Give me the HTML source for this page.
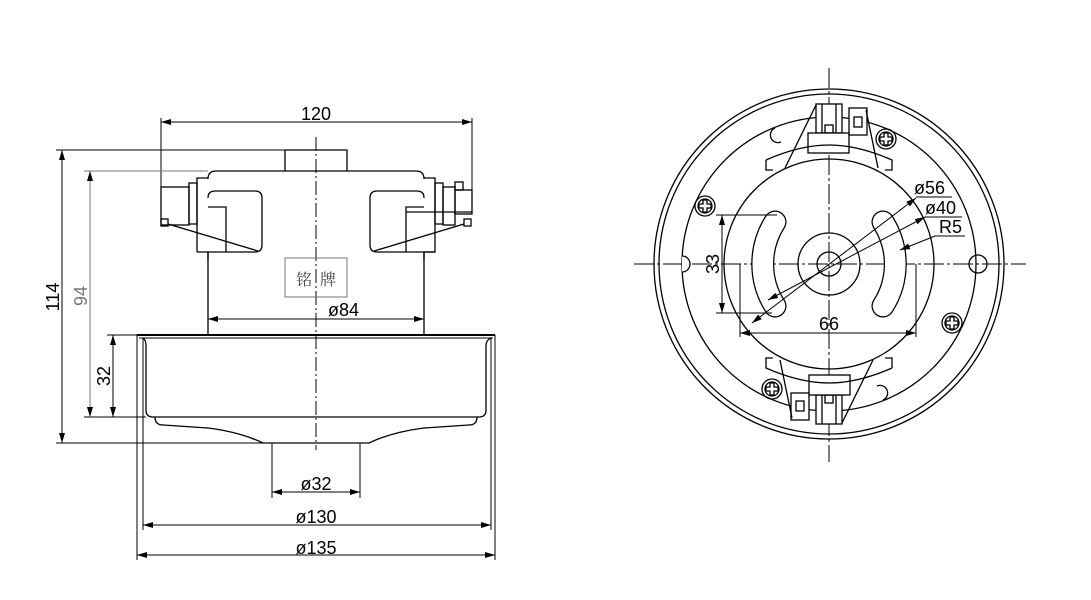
<!DOCTYPE html>
<html><head><meta charset="utf-8"><style>
html,body{margin:0;padding:0;background:#fff;}
svg{display:block;}
text{font-family:"Liberation Sans","DejaVu Sans",sans-serif;fill:#000;}
</style></head><body>
<svg width="1091" height="600" viewBox="0 0 1091 600" xmlns="http://www.w3.org/2000/svg">
<defs>
<marker id="a" viewBox="0 0 10 6" refX="10" refY="3" markerWidth="10" markerHeight="6" orient="auto-start-reverse" markerUnits="userSpaceOnUse"><path d="M0,0 L10,3 L0,6 z" fill="#000"/></marker>
<g id="sc" fill="none" stroke="#000" stroke-width="1.3"><circle cx="0" cy="0" r="10"/><circle cx="0" cy="0" r="7"/><path d="M-2,-6 H2 V-2 H6 V2 H2 V6 H-2 V2 H-6 V-2 H-2 Z"/></g>
<g id="term" fill="none" stroke="#000" stroke-width="1.3">
<rect x="816" y="104" width="26" height="29" fill="#fff"/>
<line x1="822" y1="104" x2="822" y2="133"/><line x1="836" y1="104" x2="836" y2="133"/>
<rect x="825" y="125" width="8" height="8"/>
<rect x="808" y="133" width="41" height="20" fill="#fff"/>
<rect x="849" y="108" width="18" height="27" fill="#fff"/>
<rect x="854" y="117" width="8" height="10"/>
<line x1="816" y1="105" x2="785" y2="168"/>
<line x1="866" y1="110" x2="878" y2="168"/>
<path d="M766,160 Q800,145 829,145 Q858,145 892,160 V170 H885"/>
<path d="M766,160 V170 H773"/>
</g>
</defs>
<g fill="none" stroke="#000" stroke-width="1.3">
<line x1="316" y1="137" x2="316" y2="450" stroke-width="1" stroke-dasharray="14,3,2,3"/>
<path d="M285,171 V150 H347 V171"/>
<path d="M197,252 V178 H208 V179 Q208,171 216,171 H416 Q424,171 424,179 V178 H435 V252 H424 V260"/>
<path d="M197,252 H208 V260"/>
<path d="M435,252 H424"/>
<path d="M208,207 H226 V252 M208,198 Q208,191 215,191 H255 Q262,191 262,198 V245 Q262,252 255,252 H208"/>
<path d="M424,207 H406 V252 M424,198 Q424,191 417,191 H377 Q370,191 370,198 V245 Q370,252 377,252 H424"/>
<rect x="189" y="183" width="8" height="41"/>
<rect x="161" y="187" width="28" height="38"/>
<rect x="161" y="219" width="7" height="7"/>
<line x1="168" y1="224" x2="258" y2="251"/>
<rect x="435" y="183" width="8" height="41"/>
<rect x="443" y="187" width="12" height="38"/>
<rect x="455" y="190" width="17" height="24"/>
<rect x="455" y="182" width="8" height="8"/>
<rect x="464" y="219" width="7" height="7"/>
<line x1="464" y1="224" x2="374" y2="251"/>
<line x1="406" y1="212" x2="472" y2="212"/>
<path d="M208,252 V334 M424,252 V334"/>
<rect x="285" y="258" width="62" height="39" stroke="#777" stroke-width="1"/>
<line x1="137" y1="335" x2="495" y2="335" stroke-width="2"/>
<line x1="139" y1="338" x2="493" y2="338" stroke-width="1"/>
<path d="M143,338 Q146,340 146,346 V410 Q146,417 153,417 H479 Q486,417 486,410 V346 Q486,340 491,338"/>
<path d="M155,417 Q155,425 163,425 L208,428 Q240,432 263,443 H369 Q392,432 424,428 L469,425 Q477,425 477,417"/>
<line x1="137" y1="335" x2="137" y2="560" stroke-width="1"/>
<line x1="143" y1="338" x2="143" y2="530" stroke-width="1"/>
<line x1="495" y1="335" x2="495" y2="560" stroke-width="1"/>
<line x1="491" y1="338" x2="491" y2="530" stroke-width="1"/>
<line x1="272" y1="443" x2="272" y2="498" stroke-width="1"/>
<line x1="360" y1="443" x2="360" y2="498" stroke-width="1"/>
<line x1="161" y1="187" x2="161" y2="118" stroke-width="1"/>
<line x1="472" y1="190" x2="472" y2="118" stroke-width="1"/>
<line x1="56" y1="150" x2="285" y2="150" stroke-width="1"/>
<line x1="84" y1="171" x2="208" y2="171" stroke-width="1" stroke="#777"/>
<line x1="56" y1="443" x2="263" y2="443" stroke-width="1"/>
<line x1="84" y1="417" x2="146" y2="417" stroke-width="1"/>
<line x1="107" y1="335" x2="137" y2="335" stroke-width="1"/>
<g stroke-width="1">
<line x1="161" y1="122" x2="472" y2="122" marker-start="url(#a)" marker-end="url(#a)"/>
<line x1="62" y1="150" x2="62" y2="443" marker-start="url(#a)" marker-end="url(#a)"/>
<line x1="90" y1="171" x2="90" y2="417" stroke="#777" marker-start="url(#a)" marker-end="url(#a)"/>
<line x1="113" y1="335" x2="113" y2="417" marker-start="url(#a)" marker-end="url(#a)"/>
<line x1="208" y1="319" x2="424" y2="319" marker-start="url(#a)" marker-end="url(#a)"/>
<line x1="272" y1="492" x2="360" y2="492" marker-start="url(#a)" marker-end="url(#a)"/>
<line x1="143" y1="525" x2="491" y2="525" marker-start="url(#a)" marker-end="url(#a)"/>
<line x1="137" y1="555" x2="495" y2="555" marker-start="url(#a)" marker-end="url(#a)"/>
</g>
<g stroke-width="1">
<line x1="829" y1="68" x2="829" y2="462" stroke-dasharray="20,3,3,3"/>
<line x1="634" y1="264" x2="1026" y2="264" stroke-dasharray="20,3,3,3"/>
</g>
<circle cx="829" cy="264" r="175"/>
<circle cx="829" cy="264" r="170"/>
<circle cx="829" cy="264" r="147"/>
<circle cx="829" cy="264" r="105"/>
<circle cx="829" cy="264" r="31"/>
<circle cx="829" cy="264" r="12"/>
<circle cx="978" cy="264" r="9"/>
<path d="M682,256 A8,8 0 0 1 682,272" fill="#fff"/>
<path d="M775,128 A7,7 0 0 0 781,142" fill="#fff"/>
<path d="M883,400 A7,7 0 0 0 877,386" fill="#fff"/>
<path d="M775,222 A78,78 0 0 0 775,306" stroke-width="23" stroke-linecap="round"/>
<path d="M775,222 A78,78 0 0 0 775,306" stroke="#fff" stroke-width="20.5" stroke-linecap="round"/>
<path d="M883,222 A78,78 0 0 1 883,306" stroke-width="23" stroke-linecap="round"/>
<path d="M883,222 A78,78 0 0 1 883,306" stroke="#fff" stroke-width="20.5" stroke-linecap="round"/>
</g>
<use href="#term"/>
<use href="#term" transform="rotate(180 829 264)"/>
<use href="#sc" transform="translate(886,139)"/>
<use href="#sc" transform="translate(705,206)"/>
<use href="#sc" transform="translate(952,323)"/>
<use href="#sc" transform="translate(772,389)"/>
<g fill="none" stroke="#000" stroke-width="1">
<line x1="716" y1="215" x2="777" y2="215"/>
<line x1="716" y1="313" x2="772" y2="313"/>
<line x1="722" y1="215" x2="722" y2="313" marker-start="url(#a)" marker-end="url(#a)"/>
<line x1="740" y1="264" x2="740" y2="337"/>
<line x1="916" y1="264" x2="916" y2="337"/>
<line x1="740" y1="333" x2="916" y2="333" marker-start="url(#a)" marker-end="url(#a)"/>
<line x1="752" y1="323" x2="916" y2="198" marker-start="url(#a)" marker-end="url(#a)"/>
<line x1="916" y1="197" x2="952" y2="197"/>
<line x1="768" y1="300" x2="925" y2="217" marker-start="url(#a)" marker-end="url(#a)"/>
<line x1="925" y1="217" x2="962" y2="217"/>
<line x1="935" y1="236" x2="900" y2="250" marker-end="url(#a)"/>
<line x1="935" y1="236" x2="965" y2="236"/>
</g>
<g font-size="18">
<text x="316" y="120" text-anchor="middle">120</text>
<text x="328" y="316">ø84</text>
<text x="316" y="490" text-anchor="middle">ø32</text>
<text x="316" y="523" text-anchor="middle">ø130</text>
<text x="316" y="554" text-anchor="middle">ø135</text>
<text transform="translate(59,297) rotate(-90)" text-anchor="middle">114</text>
<text transform="translate(87,296) rotate(-90)" text-anchor="middle" style="fill:#777">94</text>
<text transform="translate(110,376) rotate(-90)" text-anchor="middle">32</text>
<text transform="translate(719,264) rotate(-90)" text-anchor="middle">33</text>
<text x="829" y="330" text-anchor="middle">66</text>
<text x="914" y="194">ø56</text>
<text x="925" y="214">ø40</text>
<text x="939" y="233">R5</text>
</g>
<text x="296" y="285" font-size="16" style="font-family:'Noto Serif CJK SC','Noto Sans CJK SC',serif;fill:#444">铭</text>
<text x="320" y="285" font-size="16" style="font-family:'Noto Serif CJK SC','Noto Sans CJK SC',serif;fill:#444">牌</text>
</svg>
</body></html>
